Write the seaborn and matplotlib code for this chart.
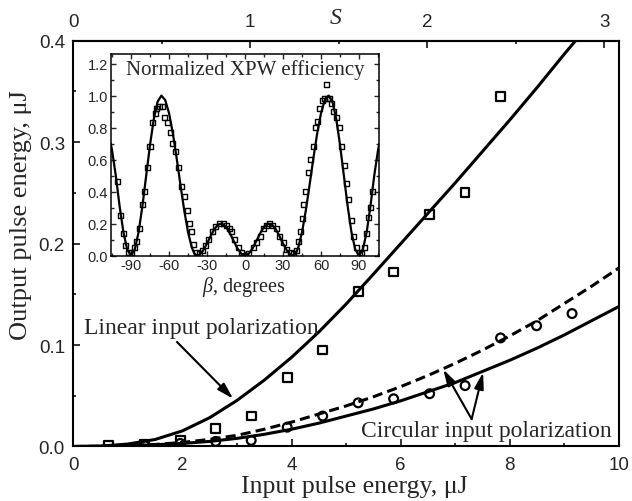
import matplotlib
matplotlib.use("Agg")
import matplotlib.pyplot as plt
import seaborn as sns
import pandas as pd
from matplotlib.ticker import MultipleLocator, FormatStrFormatter

# ---------------- main chart data ----------------
lin_E = [0.65, 1.31, 1.96, 2.61, 3.26, 3.92, 4.57, 5.22, 5.87, 6.53, 7.18, 7.83]
lin_meas = [0.001, 0.002, 0.006, 0.018, 0.030, 0.068, 0.095, 0.153, 0.172, 0.229, 0.250, 0.345]

circ_E = [1.31, 1.96, 2.61, 3.26, 3.92, 4.57, 5.22, 5.87, 6.53, 7.18, 7.83, 8.49, 9.14]
circ_meas = [0.001, 0.003, 0.005, 0.006, 0.019, 0.030, 0.043, 0.047, 0.052, 0.060, 0.107, 0.119, 0.131]

lin_curve_E = [0, 0.5, 1, 1.5, 2, 2.5, 3, 3.5, 4, 4.5, 5, 5.5, 6, 6.5, 7, 7.5, 8, 8.5, 9, 9.5]
lin_curve = [0, 0.0004, 0.0024, 0.0069, 0.0154, 0.0284, 0.0454, 0.0654, 0.0879, 0.1129, 0.1404,
             0.1699, 0.1999, 0.2299, 0.2599, 0.2909, 0.3219, 0.3539, 0.3869, 0.4189]

circ_curve_E = [0, 0.5, 1, 1.5, 2, 2.5, 3, 3.5, 4, 4.5, 5, 5.5, 6, 6.5, 7, 7.5, 8, 8.5, 9, 9.5, 10]
circ_curve = [0, 0.0001, 0.0007, 0.0017, 0.003, 0.005, 0.008, 0.012, 0.017, 0.023, 0.030, 0.037,
              0.045, 0.054, 0.063, 0.074, 0.085, 0.097, 0.110, 0.124, 0.138]
circ_dash = [0, 0.0002, 0.001, 0.002, 0.004, 0.007, 0.011, 0.017, 0.024, 0.032, 0.040, 0.049,
             0.059, 0.070, 0.082, 0.095, 0.109, 0.124, 0.141, 0.158, 0.176]

x_ticks = [0, 2, 4, 6, 8, 10]
y_ticks = [0.0, 0.1, 0.2, 0.3, 0.4]
s_ticks = [0, 1, 2, 3]
S_PER_E = 0.3083

# ---------------- inset data ----------------
beta_curve = [-106, -105, -102, -99, -96, -93, -90, -87, -84, -81, -78, -75, -72, -69, -66, -63, -60,
              -57, -54, -51, -48, -45, -42, -40, -38, -36, -33, -30, -27, -24, -21, -18, -15, -12,
              -9, -6, -3, 0, 3, 6, 9, 12, 15, 18, 21, 24, 27, 30, 33, 36, 38, 40, 42, 45, 48, 51,
              54, 57, 60, 63, 66, 69, 72, 75, 78, 81, 84, 87, 90, 93, 96, 99, 102, 105, 106]
eff_curve = [0.70, 0.66, 0.50, 0.309, 0.146, 0.038, 0.0, 0.038, 0.146, 0.309, 0.50, 0.691, 0.854,
             0.962, 1.0, 0.972, 0.891, 0.766, 0.611, 0.444, 0.283, 0.146, 0.050, 0.012, 0.0, 0.005,
             0.032, 0.075, 0.124, 0.168, 0.195, 0.199, 0.179, 0.140, 0.092, 0.045, 0.012, 0.0,
             0.012, 0.045, 0.092, 0.140, 0.179, 0.199, 0.195, 0.168, 0.124, 0.075, 0.032, 0.005,
             0.0, 0.012, 0.050, 0.146, 0.283, 0.444, 0.611, 0.766, 0.891, 0.972, 1.0, 0.962, 0.854,
             0.691, 0.50, 0.309, 0.146, 0.038, 0.0, 0.038, 0.146, 0.309, 0.50, 0.66, 0.70]

beta_meas = [-101, -98.5, -96, -94, -92, -89.5, -87, -85.5, -83, -81, -79.5, -77, -75, -73, -71,
             -69.5, -67.5, -65.5, -63.5, -61, -59, -57, -55, -52.5, -50, -47.5, -45.5, -43.5, -42,
             -40.5, -38.5, -36, -33.5, -31.5, -29, -26, -23, -20, -17, -14.5, -12.5, -10.5, -8, -5,
             -2.5, 0, 2.5, 6.5, 9, 12, 14.5, 17, 19.5, 22, 25, 27.5, 30, 33, 35.5, 38.5, 40.5, 42,
             43.5, 45, 46.5, 48, 50, 52, 54, 55.5, 57, 59, 61, 62.5, 64, 65, 66.5, 68, 70, 72,
             74.5, 76.5, 78.5, 80, 82, 84, 86, 88, 90, 92, 94, 96, 97.5, 99, 100.5]
eff_meas = [0.46, 0.25, 0.14, 0.06, 0.02, 0.02, 0.05, 0.09, 0.17, 0.32, 0.40, 0.55, 0.68, 0.83,
            0.89, 0.92, 0.93, 0.93, 0.86, 0.83, 0.77, 0.70, 0.65, 0.55, 0.43, 0.37, 0.28, 0.20,
            0.15, 0.07, 0.02, 0.01, 0.03, 0.06, 0.10, 0.15, 0.18, 0.20, 0.20, 0.19, 0.17, 0.15,
            0.10, 0.05, 0.02, 0.0, 0.01, 0.05, 0.08, 0.12, 0.17, 0.19, 0.20, 0.19, 0.17, 0.12,
            0.08, 0.04, 0.02, 0.01, 0.03, 0.09, 0.15, 0.23, 0.32, 0.40, 0.52, 0.60, 0.68, 0.80,
            0.84, 0.92, 0.97, 0.98, 1.07, 0.98, 0.98, 0.95, 0.90, 0.86, 0.80, 0.68, 0.56, 0.45,
            0.35, 0.22, 0.12, 0.05, 0.02, 0.01, 0.05, 0.14, 0.24, 0.30, 0.40]
inset_xticks = [-90, -60, -30, 0, 30, 60, 90]
inset_yticks = [0.0, 0.2, 0.4, 0.6, 0.8, 1.0, 1.2]

# ---------------- style ----------------
sns.set_theme(style="ticks")
SANS = ["Liberation Sans", "DejaVu Sans"]
SERIF = ["Liberation Serif", "DejaVu Serif"]
plt.rcParams["font.family"] = SANS
plt.rcParams["axes.unicode_minus"] = False
plt.rcParams["mathtext.fontset"] = "custom"
plt.rcParams["mathtext.it"] = "Liberation Serif:italic"
plt.rcParams["mathtext.rm"] = "Liberation Serif"

fig = plt.figure(figsize=(6.32, 5.02), dpi=100)
ax = fig.add_axes([0.116, 0.1086, 0.8634, 0.8084])

LW = 2.2
sns.lineplot(x=lin_curve_E, y=lin_curve, color="black", lw=LW, ax=ax)
sns.lineplot(x=circ_curve_E, y=circ_curve, color="black", lw=LW, ax=ax)
sns.lineplot(x=circ_curve_E, y=circ_dash, color="black", lw=LW, ax=ax,
             linestyle=(0, (3.3, 1.7)))
sns.scatterplot(x=lin_E, y=lin_meas, marker="s", s=40, facecolor="none", edgecolor="black",
                linewidth=1.6, ax=ax, zorder=3)
sns.scatterplot(x=circ_E, y=circ_meas, marker="o", s=40, facecolor="none", edgecolor="black",
                linewidth=1.6, ax=ax, zorder=3)

ax.set_xlim(0, 10)
ax.set_ylim(0, 0.4)
ax.set_xticks(x_ticks)
ax.set_yticks(y_ticks)
ax.yaxis.set_major_formatter(FormatStrFormatter("%.1f"))
ax.xaxis.set_minor_locator(MultipleLocator(1))
ax.yaxis.set_minor_locator(MultipleLocator(0.05))
ax.tick_params(which="both", direction="in", width=1.3, labelsize=13.5, top=False, right=False)
ax.tick_params(which="major", length=5)
ax.tick_params(which="minor", length=2.5)
ax.tick_params(axis="x", pad=7)
ax.tick_params(axis="y", pad=6)
for sp in ax.spines.values():
    sp.set_linewidth(1.5)
    sp.set_color("black")

secax = ax.secondary_xaxis("top", functions=(lambda e: e * S_PER_E, lambda s: s / S_PER_E))
secax.set_xticks(s_ticks)
secax.xaxis.set_minor_locator(MultipleLocator(0.5))
secax.tick_params(which="both", direction="in", width=1.3, labelsize=13.5, pad=8)
secax.tick_params(which="major", length=5)
secax.tick_params(which="minor", length=2.5)
secax.spines["top"].set_linewidth(1.5)
ax.text(0.481, 1.058, "S", transform=ax.transAxes, ha="center", va="center",
        fontsize=17, style="italic", family=SERIF)

ax.set_xlabel("Input pulse energy, μJ", fontsize=18.5, family=SERIF)
ax.set_ylabel("Output pulse energy, μJ", fontsize=19, family=SERIF)
ax.xaxis.set_label_coords(0.515, -0.097)
ax.xaxis.label.set_va("center")
ax.yaxis.set_label_coords(-0.096, 0.573)
ax.yaxis.label.set_va("center")

ax.text(4.49, 0.117, "Linear input polarization", ha="right", va="center",
        fontsize=17, family=SERIF)
ax.text(9.87, 0.0156, "Circular input polarization", ha="right", va="center",
        fontsize=17, family=SERIF)
arrow = dict(arrowstyle="-|>,head_width=0.2,head_length=0.7", color="black", lw=1.5,
             shrinkA=0, shrinkB=0, mutation_scale=14)
ax.annotate("", xy=(2.93, 0.047), xytext=(1.9, 0.103), arrowprops=arrow)
ax.annotate("", xy=(6.78, 0.076), xytext=(7.30, 0.027), arrowprops=arrow)
ax.annotate("", xy=(7.51, 0.073), xytext=(7.30, 0.027), arrowprops=arrow)

# ---------------- inset ----------------
ins = fig.add_axes([0.1752, 0.489, 0.425, 0.4014])
sns.lineplot(x=beta_curve, y=eff_curve, color="black", lw=1.6, ax=ins)
sns.scatterplot(x=beta_meas, y=eff_meas, marker="s", s=13, facecolor="none", edgecolor="black",
                linewidth=1.0, ax=ins, zorder=3)
ins.set_xlim(-106, 106)
ins.set_ylim(0, 1.26)
ins.set_xticks(inset_xticks)
ins.set_yticks(inset_yticks)
ins.yaxis.set_major_formatter(FormatStrFormatter("%.1f"))
ins.xaxis.set_minor_locator(MultipleLocator(15))
ins.yaxis.set_minor_locator(MultipleLocator(0.1))
ins.tick_params(which="both", direction="in", top=True, right=True, width=1.0, labelsize=10.5)
ins.tick_params(which="major", length=3.5)
ins.tick_params(which="minor", length=2)
ins.tick_params(axis="x", pad=2)
ins.tick_params(axis="y", pad=2)
for sp in ins.spines.values():
    sp.set_linewidth(1.1)
    sp.set_color("black")
ins.set_xlabel(r"$\beta$, degrees", fontsize=14.5, family=SERIF)
ins.xaxis.set_label_coords(0.496, -0.15)
ins.xaxis.label.set_va("center")
ins.set_ylabel("")
ins.text(0.502, 0.926, "Normalized XPW efficiency", transform=ins.transAxes, ha="center",
         va="center", fontsize=15, family=SERIF)

fig.savefig("out.png", dpi=100)
